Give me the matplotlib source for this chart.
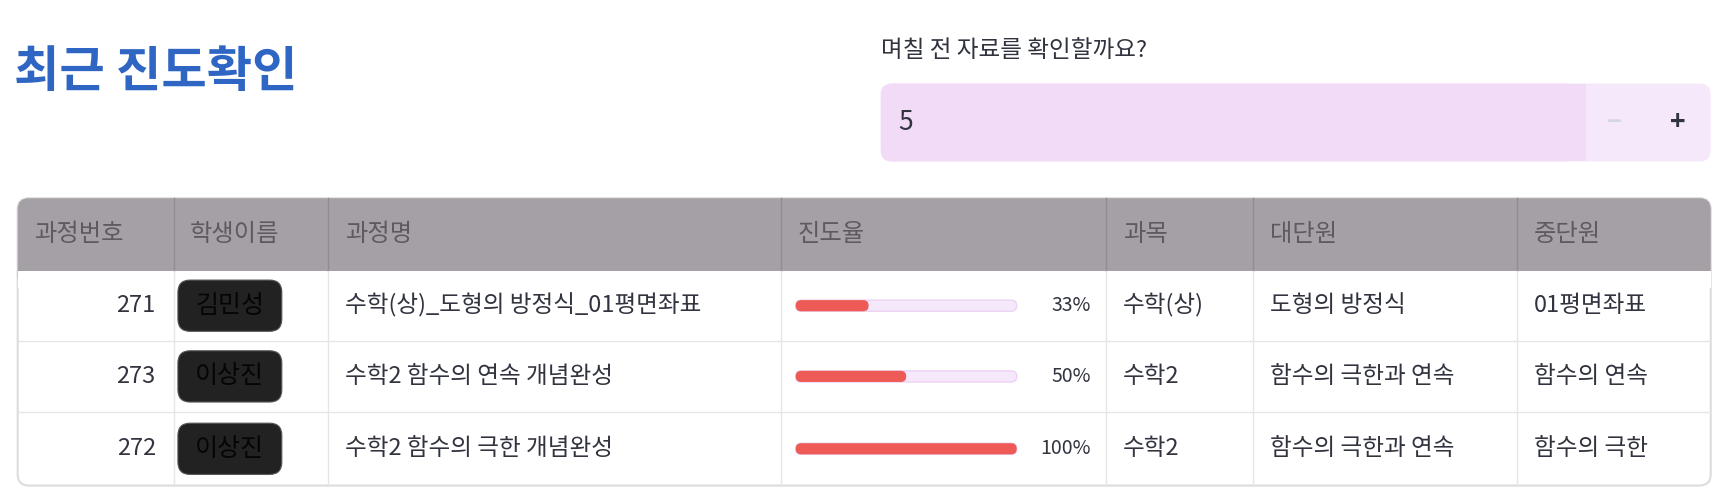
import matplotlib.pyplot as plt
from matplotlib.patches import FancyBboxPatch, Rectangle

plt.rcParams['font.family'] = ['Noto Sans CJK KR', 'DejaVu Sans']

title = "최근 진도확인"
input_label = "며칠 전 자료를 확인할까요?"
input_value = 5
columns = ["과정번호", "학생이름", "과정명", "진도율", "과목", "대단원", "중단원"]
course_ids = [271, 273, 272]
students = ["김민성", "이상진", "이상진"]
course_names = ["수학(상)_도형의 방정식_01평면좌표", "수학2 함수의 연속 개념완성", "수학2 함수의 극한 개념완성"]
progress = [33, 50, 100]
subjects = ["수학(상)", "수학2", "수학2"]
units = ["도형의 방정식", "함수의 극한과 연속", "함수의 극한과 연속"]
subunits = ["01평면좌표", "함수의 연속", "함수의 극한"]

W, H = 1560, 440
fig = plt.figure(figsize=(17.24, 4.9), dpi=100)
ax = fig.add_axes([0, 0, 1, 1])
ax.set_xlim(0, W)
ax.set_ylim(H, 0)
ax.axis('off')

ax.text(13, 65, title, fontsize=35.5, fontweight='bold', color='#2f66c4', va='center')

# number input
ax.text(797, 45, input_label, fontsize=17, color='#31333f', va='center')
ax.add_patch(FancyBboxPatch((797, 75), 751, 70, boxstyle="round,pad=0,rounding_size=10",
                            fc='#f6e8fb', ec='none'))
ax.add_patch(FancyBboxPatch((797, 75), 628, 70, boxstyle="round,pad=0,rounding_size=10",
                            fc='#f2dbf7', ec='none'))
ax.add_patch(Rectangle((1415, 75), 20, 70, fc='#f2dbf7', ec='none'))
ax.text(813, 110, str(input_value), fontsize=19, color='#31333f', va='center')
ax.text(1460, 110, "−", fontsize=18, color='#d3d6dc', va='center', ha='center', fontweight='bold')
ax.text(1518, 110, "+", fontsize=19, color='#31333f', va='center', ha='center', fontweight='bold')

# table
col_x = [16, 157, 297, 707, 1001, 1134, 1373, 1548]
row_y = [178, 243, 306, 370, 436]
ax.add_patch(FancyBboxPatch((16, 178), 1532, 258, boxstyle="round,pad=0,rounding_size=10",
                            fc='white', ec='#dcdcdc', lw=1.5, zorder=1))
ax.add_patch(FancyBboxPatch((16, 178), 1532, 80, boxstyle="round,pad=0,rounding_size=10",
                            fc='#a5a0a5', ec='none', zorder=2))
ax.add_patch(Rectangle((16, 243), 1532, 16, fc='white', ec='none', zorder=2))
for x in col_x[1:-1]:
    ax.plot([x, x], [178, 243], color='#918c91', lw=1, zorder=3)
    ax.plot([x, x], [243, 436], color='#e6e6e6', lw=1, zorder=3)
for y in row_y[2:-1]:
    ax.plot([16, 1548], [y, y], color='#e6e6e6', lw=1, zorder=3)

hy = (row_y[0] + row_y[1]) / 2
for i, c in enumerate(columns):
    ax.text(col_x[i] + 15, hy, c, fontsize=17.5, color='#5f5a5f', va='center', zorder=4)

for r in range(len(course_ids)):
    cy = (row_y[r + 1] + row_y[r + 2]) / 2
    ax.text(col_x[1] - 16, cy, str(course_ids[r]), fontsize=17, color='#31333f',
            va='center', ha='right', zorder=4)
    ax.add_patch(FancyBboxPatch((161, cy - 23), 94, 46, boxstyle="round,pad=0,rounding_size=11",
                                fc='#222222', ec='#555555', lw=0.8, zorder=4))
    ax.text(208, cy, students[r], fontsize=18, color='#050505', va='center', ha='center', zorder=5)
    ax.text(col_x[2] + 15, cy, course_names[r], fontsize=17, color='#31333f', va='center', zorder=4)
    ax.add_patch(FancyBboxPatch((720, cy - 5), 200, 10, boxstyle="round,pad=0,rounding_size=5",
                                fc='#f6e8fb', ec='#ecd3f3', lw=1, zorder=4))
    ax.add_patch(FancyBboxPatch((720, cy - 5), 200 * progress[r] / 100, 10,
                                boxstyle="round,pad=0,rounding_size=5",
                                fc='#ee5a55', ec='none', zorder=5))
    ax.text(987, cy, f"{progress[r]}%", fontsize=14, color='#31333f', va='center', ha='right', zorder=4)
    ax.text(col_x[4] + 15, cy, subjects[r], fontsize=17, color='#31333f', va='center', zorder=4)
    ax.text(col_x[5] + 15, cy, units[r], fontsize=17, color='#31333f', va='center', zorder=4)
    ax.text(col_x[6] + 15, cy, subunits[r], fontsize=17, color='#31333f', va='center', zorder=4)

fig.savefig("out.png", dpi=100)
